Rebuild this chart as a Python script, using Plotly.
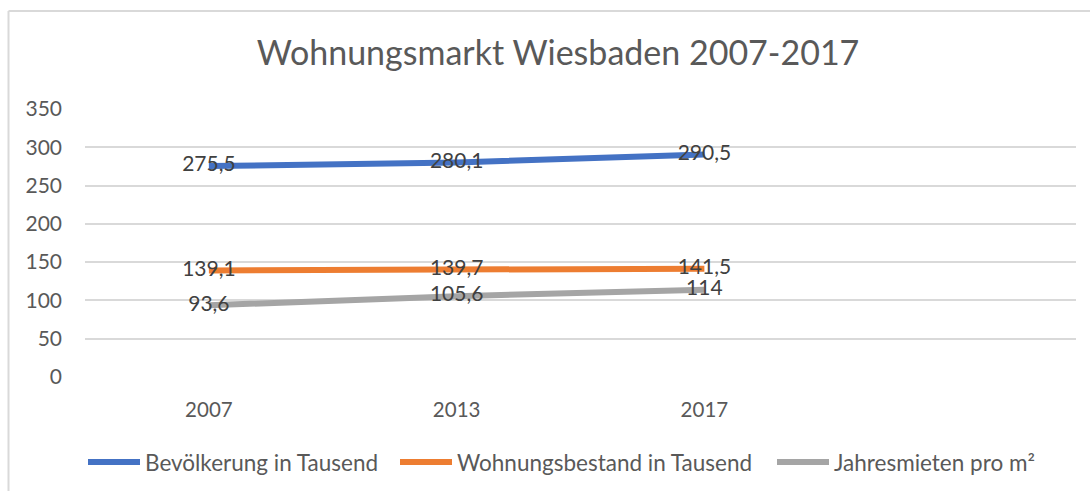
import plotly.graph_objects as go

# Data
years = ["2007", "2013", "2017"]
categories = ["2007", "2013", "2017", " "]
bevoelkerung = [275.5, 280.1, 290.5]
wohnungsbestand = [139.1, 139.7, 141.5]
jahresmieten = [93.6, 105.6, 114]

series_names = ["Bevölkerung in Tausend", "Wohnungsbestand in Tausend", "Jahresmieten pro m²"]
series_values = [bevoelkerung, wohnungsbestand, jahresmieten]
series_colors = ["#4472C4", "#ED7D31", "#A5A5A5"]

y_ticks = [0, 50, 100, 150, 200, 250, 300, 350]

FONT = "Lato"
TEXT_COLOR = "#595959"
GRID = "#D9D9D9"


def fmt(v):
    s = f"{v:g}"
    return s.replace(".", ",")


fig = go.Figure()
for name, vals, col in zip(series_names, series_values, series_colors):
    fig.add_trace(go.Scatter(
        x=years, y=vals, name=name,
        mode="lines+text",
        line=dict(color=col, width=6),
        text=[fmt(v) for v in vals],
        textposition="middle center",
        textfont=dict(family=FONT, size=21, color="#404040"),
        cliponaxis=False,
        showlegend=False,
    ))

W, H = 1090, 491
L, R, T, B = 85, 14, 109, 114
pw = W - L - R
ph = H - T - B


def px_x(x):
    return (x - L) / pw


def px_y(y):
    return (H - B - y) / ph


# Outer chart border (top and left edges)
fig.add_shape(type="line", xref="paper", yref="paper",
              x0=px_x(8.5), x1=px_x(1092), y0=px_y(11), y1=px_y(11),
              line=dict(color=GRID, width=2))
fig.add_shape(type="line", xref="paper", yref="paper",
              x0=px_x(8.5), x1=px_x(8.5), y0=px_y(11), y1=px_y(495),
              line=dict(color=GRID, width=2))

# Legend below the plot: line sample followed by the series name
legend_y = 462
legend_starts = [88, 400, 777]
sample_len = 52
for name, col, x0 in zip(series_names, series_colors, legend_starts):
    fig.add_shape(type="line", xref="paper", yref="paper",
                  x0=px_x(x0), x1=px_x(x0 + sample_len),
                  y0=px_y(legend_y), y1=px_y(legend_y),
                  line=dict(color=col, width=6))
    fig.add_annotation(xref="paper", yref="paper",
                       x=px_x(x0 + sample_len + 3), y=px_y(legend_y),
                       xanchor="left", yanchor="middle", showarrow=False,
                       text=name, font=dict(family=FONT, size=22.5, color=TEXT_COLOR))

fig.update_layout(
    width=W, height=H,
    margin=dict(l=L, r=R, t=T, b=B),
    paper_bgcolor="white", plot_bgcolor="white",
    font=dict(family=FONT, color=TEXT_COLOR),
    title=dict(text="Wohnungsmarkt Wiesbaden 2007-2017",
               x=558 / W, xanchor="center", y=1 - 53 / H, yanchor="middle",
               font=dict(family=FONT, size=34, color=TEXT_COLOR)),
    xaxis=dict(type="category", categoryorder="array", categoryarray=categories,
               range=[-0.5, 3.5], showgrid=False, zeroline=False,
               showline=False, ticks="", tickfont=dict(size=20.5, color=TEXT_COLOR),
               ticklabelstandoff=18),
    yaxis=dict(range=[0, 350], tickvals=y_ticks, showgrid=True, gridcolor=GRID,
               gridwidth=1.5, zeroline=False, showline=False, ticks="",
               tickfont=dict(size=21, color=TEXT_COLOR), ticklabelstandoff=22),
    showlegend=False,
)

fig.write_html("out.html")
